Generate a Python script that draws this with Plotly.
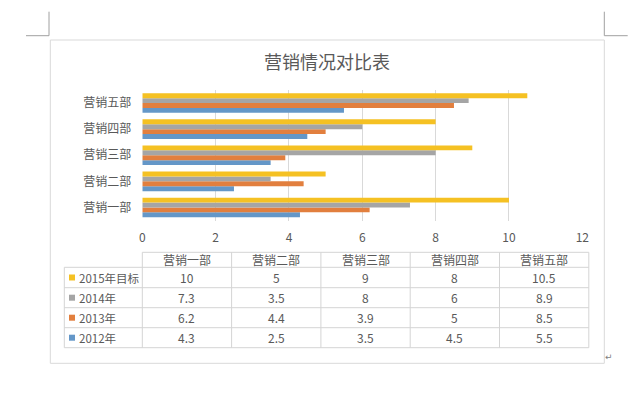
import plotly.graph_objects as go

categories = ["营销一部", "营销二部", "营销三部", "营销四部", "营销五部"]
series_names = ["2012年", "2013年", "2014年", "2015年目标"]
v2012 = [4.3, 2.5, 3.5, 4.5, 5.5]
v2013 = [6.2, 4.4, 3.9, 5, 8.5]
v2014 = [7.3, 3.5, 8, 6, 8.9]
v2015 = [10, 5, 9, 8, 10.5]
colors = ["#6497C8", "#E27F3E", "#A5A5A5", "#F5C123"]
x_ticks = [0, 2, 4, 6, 8, 10, 12]
title_text = "营销情况对比表"

W, H = 643, 394
FONT = "Noto Sans CJK SC"
TXT = "#595959"
GRID = "#D9D9D9"


def px(x):
    return x / W


def py(y):
    return 1 - y / H


series_vals = [v2012, v2013, v2014, v2015]

fig = go.Figure()
for name, vals, col in zip(series_names, series_vals, colors):
    fig.add_trace(go.Bar(y=categories, x=vals, name=name, orientation="h",
                         marker=dict(color=col, line=dict(width=0)),
                         showlegend=False, hoverinfo="x+name"))

shapes = []
annotations = []

# outer chart border
shapes.append(dict(type="rect", xref="paper", yref="paper",
                   x0=px(50.3), x1=px(604.3), y0=py(363.3), y1=py(40),
                   line=dict(color=GRID, width=1)))
# page corner marks
mark = dict(color="#A0A0A0", width=1)
shapes += [
    dict(type="line", xref="paper", yref="paper", x0=px(49), x1=px(49), y0=py(11.7), y1=py(35.7), line=mark),
    dict(type="line", xref="paper", yref="paper", x0=px(26), x1=px(49), y0=py(35.7), y1=py(35.7), line=mark),
    dict(type="line", xref="paper", yref="paper", x0=px(604.3), x1=px(604.3), y0=py(11.7), y1=py(35.7), line=mark),
    dict(type="line", xref="paper", yref="paper", x0=px(604.3), x1=px(627.7), y0=py(35.7), y1=py(35.7), line=mark),
]

# data table
tbl_left, col0, tbl_right = 64.3, 142.3, 588.8
row_lines = [252.3, 267.3, 287.7, 307.7, 327.7, 347.7]
ncol = len(categories)
cw = (tbl_right - col0) / ncol
col_lines = [col0 + i * cw for i in range(ncol + 1)]
tline = dict(color="#D4D4D4", width=1)
for i, yl in enumerate(row_lines):
    x0 = col0 if i == 0 else tbl_left
    shapes.append(dict(type="line", xref="paper", yref="paper", x0=px(x0), x1=px(tbl_right),
                       y0=py(yl), y1=py(yl), line=tline))
shapes.append(dict(type="line", xref="paper", yref="paper", x0=px(tbl_left), x1=px(tbl_left),
                   y0=py(row_lines[1]), y1=py(row_lines[-1]), line=tline))
for xl in col_lines:
    shapes.append(dict(type="line", xref="paper", yref="paper", x0=px(xl), x1=px(xl),
                       y0=py(row_lines[0]), y1=py(row_lines[-1]), line=tline))

tfont = dict(family=FONT, size=12, color=TXT)
lfont = dict(family=FONT, size=11.5, color=TXT)
for j, c in enumerate(categories):
    annotations.append(dict(text=c, x=px(col0 + (j + 0.5) * cw), y=py((row_lines[0] + row_lines[1]) / 2),
                            xref="paper", yref="paper", showarrow=False, font=tfont,
                            xanchor="center", yanchor="middle"))
rows = list(zip(series_names, series_vals, colors))[::-1]
for r, (name, vals, col) in enumerate(rows):
    yc = (row_lines[r + 1] + row_lines[r + 2]) / 2
    shapes.append(dict(type="rect", xref="paper", yref="paper", x0=px(69), x1=px(75),
                       y0=py(yc + 3), y1=py(yc - 3), fillcolor=col, line=dict(width=0)))
    annotations.append(dict(text=name, x=px(77), y=py(yc), xref="paper", yref="paper",
                            showarrow=False, font=lfont, xanchor="left", yanchor="middle"))
    for j, v in enumerate(vals):
        annotations.append(dict(text=f"{v:g}", x=px(col0 + (j + 0.5) * cw), y=py(yc),
                                xref="paper", yref="paper", showarrow=False, font=tfont,
                                xanchor="center", yanchor="middle"))

# title
annotations.append(dict(text=title_text, x=px(327.2), y=py(61), xref="paper", yref="paper",
                        showarrow=False, font=dict(family=FONT, size=18, color=TXT),
                        xanchor="center", yanchor="middle"))
# paragraph mark
annotations.append(dict(text="↵", x=px(609), y=py(357), xref="paper", yref="paper",
                        showarrow=False, font=dict(family="DejaVu Sans", size=9, color="#808080"),
                        xanchor="center", yanchor="middle"))

fig.update_layout(
    template="none",
    width=W, height=H, margin=dict(l=0, r=0, t=0, b=0, pad=0, autoexpand=False),
    paper_bgcolor="white", plot_bgcolor="white",
    barmode="group", bargap=0.25, bargroupgap=0,
    shapes=shapes, annotations=annotations,
    xaxis=dict(domain=[px(142.3), px(582.3)], range=[0, 12], tickvals=x_ticks,
               showgrid=True, gridcolor=GRID, gridwidth=1, zeroline=False,
               showline=False, ticks="", ticklabelstandoff=8, automargin=False,
               tickfont=dict(family=FONT, size=12, color=TXT), fixedrange=True),
    yaxis=dict(domain=[py(220.5), py(90)], categoryorder="array", categoryarray=categories,
               showgrid=False, zeroline=False, showline=False, ticks="",
               ticklabelstandoff=10, automargin=False,
               tickfont=dict(family=FONT, size=12, color=TXT), fixedrange=True),
    font=dict(family=FONT),
)

fig.write_html("out.html")
